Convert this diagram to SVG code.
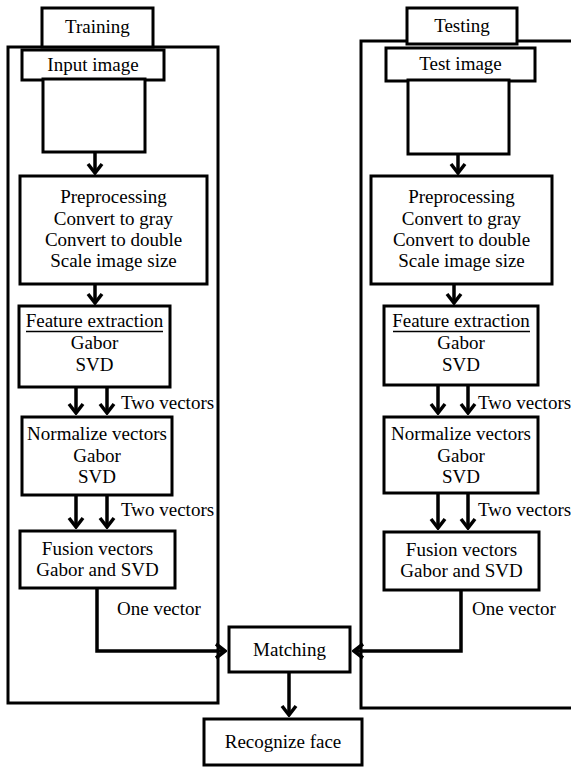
<svg xmlns="http://www.w3.org/2000/svg" width="571" height="767" viewBox="0 0 571 767">
<style>
.box{fill:#fff;stroke:#000;stroke-width:3}
.panel{fill:none;stroke:#000;stroke-width:3}
text{font-family:'Liberation Serif','Times New Roman',Tinos,'DejaVu Serif',serif;font-size:19px;fill:#000}
.c{text-anchor:middle}
.conn{fill:none;stroke:#000;stroke-width:3.5}
</style>
<defs>
<marker id="chev" viewBox="-12 -10 14 20" refX="0" refY="0" markerWidth="14" markerHeight="20" markerUnits="userSpaceOnUse" orient="auto">
<path d="M -9 -7 L 0 0 L -9 7" fill="none" stroke="#000" stroke-width="3.5"/>
</marker>
</defs>
<rect x="0" y="0" width="571" height="767" fill="#fff"/>
<g font-family="Liberation Serif, Times New Roman, serif">
<g id="training-panel"><rect class="panel" x="8" y="47" width="210" height="656"/></g>
<g id="testing-panel"><rect class="panel" x="361" y="41" width="230" height="667"/></g>
<g id="training"><rect class="box" x="42" y="8" width="111" height="39"/><text class="c" x="97.5" y="33">Training</text></g>
<g id="testing"><rect class="box" x="407" y="8" width="110" height="36"/><text class="c" x="462" y="32">Testing</text></g>
<g id="input-image"><rect class="box" x="22" y="50" width="142" height="30"/><text class="c" x="93" y="71">Input image</text></g>
<g id="input-frame"><rect class="box" x="43" y="79" width="102" height="73"/></g>
<g id="test-image"><rect class="box" x="386" y="48" width="149" height="33"/><text class="c" x="460.5" y="70">Test image</text></g>
<g id="test-frame"><rect class="box" x="408" y="80" width="101" height="74"/></g>
<g id="pre-l"><rect class="box" x="20" y="176" width="187" height="108"/>
<text class="c" x="113.5" y="203">Preprocessing</text><text class="c" x="113.5" y="225">Convert to gray</text><text class="c" x="113.5" y="246">Convert to double</text><text class="c" x="113.5" y="267">Scale image size</text></g>
<g id="pre-r"><rect class="box" x="371" y="176" width="181" height="108"/>
<text class="c" x="461.5" y="203">Preprocessing</text><text class="c" x="461.5" y="225">Convert to gray</text><text class="c" x="461.5" y="246">Convert to double</text><text class="c" x="461.5" y="267">Scale image size</text></g>
<g id="feat-l"><rect class="box" x="19" y="306" width="151" height="81"/>
<text class="c" x="94.5" y="327">Feature extraction</text><line x1="26" y1="331.5" x2="163" y2="331.5" stroke="#000" stroke-width="1.5"/>
<text class="c" x="94.5" y="349">Gabor</text><text class="c" x="94.5" y="371">SVD</text></g>
<g id="feat-r"><rect class="box" x="384" y="306" width="154" height="79"/>
<text class="c" x="461" y="327">Feature extraction</text><line x1="393" y1="331.5" x2="530" y2="331.5" stroke="#000" stroke-width="1.5"/>
<text class="c" x="461" y="349">Gabor</text><text class="c" x="461" y="371">SVD</text></g>
<g id="norm-l"><rect class="box" x="22" y="417" width="150" height="78"/>
<text class="c" x="97" y="440">Normalize vectors</text><text class="c" x="97" y="462">Gabor</text><text class="c" x="97" y="483">SVD</text></g>
<g id="norm-r"><rect class="box" x="384" y="417" width="154" height="76"/>
<text class="c" x="461" y="440">Normalize vectors</text><text class="c" x="461" y="462">Gabor</text><text class="c" x="461" y="483">SVD</text></g>
<g id="fus-l"><rect class="box" x="20" y="531" width="155" height="57"/>
<text class="c" x="97.5" y="555">Fusion vectors</text><text class="c" x="97.5" y="576">Gabor and SVD</text></g>
<g id="fus-r"><rect class="box" x="384" y="532" width="155" height="58"/>
<text class="c" x="461.5" y="556">Fusion vectors</text><text class="c" x="461.5" y="577">Gabor and SVD</text></g>
<g id="matching"><rect class="box" x="229" y="627" width="121" height="45"/><text class="c" x="289.5" y="656">Matching</text></g>
<g id="recognize"><rect class="box" x="204" y="719" width="158" height="46"/><text class="c" x="283" y="748">Recognize face</text></g>
<g id="connectors">
<line class="conn" x1="95" y1="152" x2="95" y2="173" marker-end="url(#chev)"/>
<line class="conn" x1="95" y1="284" x2="95" y2="303" marker-end="url(#chev)"/>
<line class="conn" x1="76" y1="387" x2="76" y2="413" marker-end="url(#chev)"/>
<line class="conn" x1="107" y1="387" x2="107" y2="413" marker-end="url(#chev)"/>
<line class="conn" x1="76" y1="495" x2="76" y2="527" marker-end="url(#chev)"/>
<line class="conn" x1="107" y1="495" x2="107" y2="527" marker-end="url(#chev)"/>
<path class="conn" d="M 97 588 V 651 H 225" marker-end="url(#chev)"/>
<line class="conn" x1="458" y1="154" x2="458" y2="173" marker-end="url(#chev)"/>
<line class="conn" x1="454" y1="284" x2="454" y2="303" marker-end="url(#chev)"/>
<line class="conn" x1="438" y1="385" x2="438" y2="413" marker-end="url(#chev)"/>
<line class="conn" x1="468" y1="385" x2="468" y2="413" marker-end="url(#chev)"/>
<line class="conn" x1="438" y1="493" x2="438" y2="528" marker-end="url(#chev)"/>
<line class="conn" x1="468" y1="493" x2="468" y2="528" marker-end="url(#chev)"/>
<path class="conn" d="M 461 590 V 651 H 354" marker-end="url(#chev)"/>
<line class="conn" x1="289" y1="672" x2="289" y2="715" marker-end="url(#chev)"/>
</g>
<g id="labels">
<text x="121" y="409">Two vectors</text>
<text x="121" y="516">Two vectors</text>
<text x="117" y="615">One vector</text>
<text x="478" y="409">Two vectors</text>
<text x="478" y="516">Two vectors</text>
<text x="472" y="615">One vector</text>
</g>
</g>
</svg>
